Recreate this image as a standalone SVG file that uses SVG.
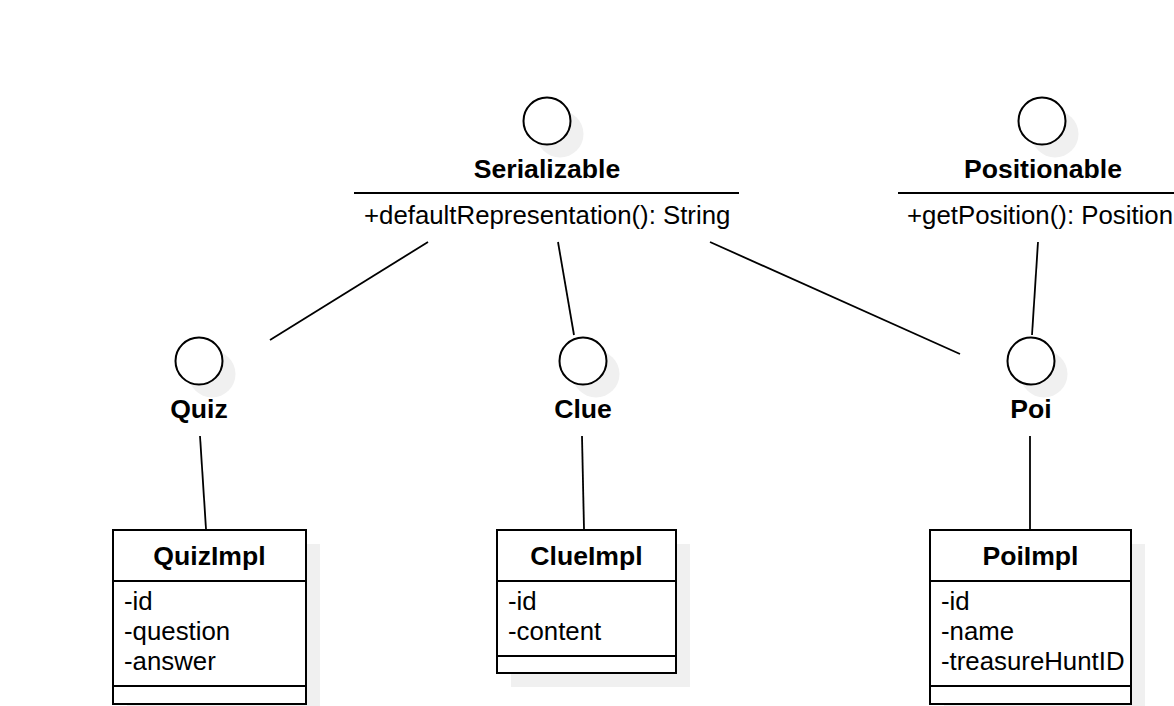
<svg xmlns="http://www.w3.org/2000/svg" width="1174" height="706" viewBox="0 0 1174 706">
<style>
.bg{fill:#ffffff}
.shadow{fill:#f0f0f0;stroke:none}
.c{fill:#ffffff;stroke:#000000;stroke-width:2}
.box{fill:#ffffff;stroke:#000000;stroke-width:2}
.ln{stroke:#000000;stroke-width:2;fill:none}
.edge{stroke:#000000;stroke-width:1.8;fill:none}
.t{font-family:"Liberation Sans",Arial,sans-serif;font-size:25.8px;fill:#000000}
.b{font-family:"Liberation Sans",Arial,sans-serif;font-size:26.6px;font-weight:bold;fill:#000000;text-anchor:middle}
</style>
<rect class="bg" x="0" y="0" width="1174" height="706"/>
<g id="connectors">
<line class="edge" x1="428" y1="242" x2="270" y2="340"/>
<line class="edge" x1="558" y1="242" x2="574" y2="335"/>
<line class="edge" x1="710" y1="242" x2="960" y2="354"/>
<line class="edge" x1="1038" y1="242" x2="1032" y2="335"/>
<line class="edge" x1="200" y1="436" x2="206" y2="529"/>
<line class="edge" x1="582" y1="436" x2="584" y2="529"/>
<line class="edge" x1="1030" y1="436" x2="1030" y2="529"/>
</g>
<g id="Serializable">
<circle class="shadow" cx="560" cy="134" r="23.5"/>
<circle class="c" cx="547" cy="121" r="23.5"/>
<text class="b" x="547" y="178">Serializable</text>
<line class="ln" x1="354" y1="193" x2="739" y2="193"/>
<text class="t" x="364" y="224">+defaultRepresentation(): String</text>
</g>
<g id="Positionable">
<circle class="shadow" cx="1055" cy="134" r="23.5"/>
<circle class="c" cx="1042" cy="121" r="23.5"/>
<text class="b" x="1043" y="178">Positionable</text>
<line class="ln" x1="898" y1="193" x2="1174" y2="193"/>
<text class="t" x="907" y="224">+getPosition(): Position</text>
</g>
<g id="Quiz">
<circle class="shadow" cx="212" cy="374" r="23.5"/>
<circle class="c" cx="199" cy="361" r="23.5"/>
<text class="b" x="199" y="418">Quiz</text>
</g>
<g id="Clue">
<circle class="shadow" cx="596" cy="374" r="23.5"/>
<circle class="c" cx="583" cy="361" r="23.5"/>
<text class="b" x="583" y="418">Clue</text>
</g>
<g id="Poi">
<circle class="shadow" cx="1044" cy="374" r="23.5"/>
<circle class="c" cx="1031" cy="361" r="23.5"/>
<text class="b" x="1031" y="418">Poi</text>
</g>
<g id="QuizImpl">
<rect class="shadow" x="127" y="544" width="193" height="174"/>
<rect class="box" x="113" y="530" width="193" height="174"/>
<line class="ln" x1="113" y1="581" x2="306" y2="581"/>
<line class="ln" x1="113" y1="686" x2="306" y2="686"/>
<text class="b" x="209.5" y="565">QuizImpl</text>
<text class="t" x="124" y="610">-id</text>
<text class="t" x="124" y="640">-question</text>
<text class="t" x="124" y="670">-answer</text>
</g>
<g id="ClueImpl">
<rect class="shadow" x="511" y="544" width="179" height="143"/>
<rect class="box" x="497" y="530" width="179" height="143"/>
<line class="ln" x1="497" y1="581" x2="676" y2="581"/>
<line class="ln" x1="497" y1="656" x2="676" y2="656"/>
<text class="b" x="586.5" y="565">ClueImpl</text>
<text class="t" x="508" y="610">-id</text>
<text class="t" x="508" y="640">-content</text>
</g>
<g id="PoiImpl">
<rect class="shadow" x="944" y="544" width="201" height="174"/>
<rect class="box" x="930" y="530" width="201" height="174"/>
<line class="ln" x1="930" y1="581" x2="1131" y2="581"/>
<line class="ln" x1="930" y1="686" x2="1131" y2="686"/>
<text class="b" x="1030.5" y="565">PoiImpl</text>
<text class="t" x="941" y="610">-id</text>
<text class="t" x="941" y="640">-name</text>
<text class="t" x="941" y="670">-treasureHuntID</text>
</g>
</svg>
